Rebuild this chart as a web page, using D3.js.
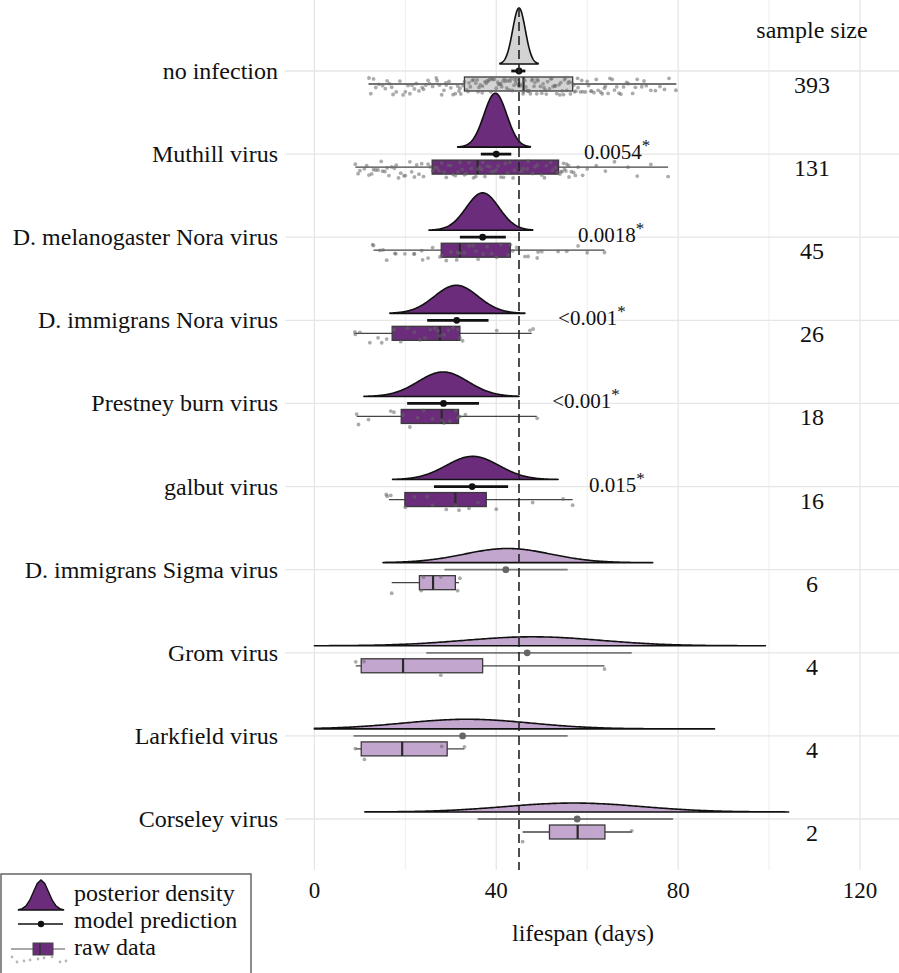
<!DOCTYPE html>
<html>
<head>
<meta charset="utf-8">
<script src="https://d3js.org/d3.v7.min.js"></script>
<style>
  body { margin: 0; background: #fff; }
  svg text { font-family: "Liberation Serif", "Times New Roman", serif; fill: #111; }
</style>
</head>
<body>
<svg id="chart" width="899" height="973" font-family="Liberation Serif, Times New Roman, serif"></svg>
<script>
'use strict';

var categories = ['no infection', 'Muthill virus', 'D. melanogaster Nora virus', 'D. immigrans Nora virus',
  'Prestney burn virus', 'galbut virus', 'D. immigrans Sigma virus', 'Grom virus', 'Larkfield virus', 'Corseley virus'];
var sampleSizes = [393, 131, 45, 26, 18, 16, 6, 4, 4, 2];
var pValues = [null, '0.0054', '0.0018', '<0.001', '<0.001', '0.015', null, null, null, null];
var pValueAt = [null, 59.3, 58, 53.6, 52.3, 60.4, null, null, null, null];   // where the p-value label starts (days)

// posterior of mean lifespan: centre, spread and the range the samples cover
var postMean = [45, 39.8, 37, 31.2, 28.3, 34.8, 42.5, 48, 33.6, 57];
var postSd = [1.4, 2.5, 3.6, 4.8, 5.5, 5.8, 9.5, 15, 14, 15];
var postLo = [40.8, 31.5, 25.2, 16.6, 10.9, 17.2, 15.1, 0, 0, 11.1];
var postHi = [49.2, 47.5, 48, 46.3, 45, 53.6, 74.4, 99.2, 88, 104.3];

// model prediction (point + interval)
var predMid = [45, 40, 37, 31.3, 28.4, 34.7, 42.1, 46.8, 32.6, 57.8];
var predLo = [43.3, 36.6, 32, 24.8, 20.4, 26.3, 28.6, 24.6, 8.6, 35.9];
var predHi = [46.4, 43.3, 42.1, 38.3, 36.2, 42.6, 55.7, 69.8, 55.7, 78.9];

// boxplot: whisker low, q1, median, q3, whisker high
var boxLow = [11.9, 9, 13, 8.8, 9.3, 16.4, 17, 9.1, 9.1, 45.8];
var boxQ1 = [33, 25.9, 27.9, 17.1, 19.1, 19.9, 23.1, 10.3, 10.3, 51.7];
var boxMed = [46, 35.9, 32, 27.6, 28, 31, 26.1, 19.5, 19.3, 57.9];
var boxQ3 = [56.8, 53.7, 43.1, 32, 31.7, 37.8, 31, 37, 29.2, 63.9];
var boxHigh = [79.6, 77.8, 63.8, 47.8, 48.9, 56.8, 31.8, 63.8, 33, 69.8];

// raw lifespans (days)
var rawNoInfection = [12, 12.4, 13, 13.5, 14.2, 15, 15.6, 16, 16.5, 17, 17.3, 18, 18.8, 19.5, 20, 20.6, 21, 21.5,
  22, 22.4, 23, 23.7, 24, 24.5, 25, 25.3, 26, 26.8, 27, 27.5, 28, 28.5, 28.9, 29, 29.6, 30, 30.5, 31, 31.5, 31.8,
  32, 32.2, 32.7, 33, 33.5, 33.8, 34, 34.3, 34.7, 35, 35.5, 35.8, 36, 36.2, 36.5, 36.9, 37, 37.5, 37.8, 38, 38.3,
  38.5, 38.8, 39, 39.2, 39.6, 40, 40.3, 40.5, 40.8, 41, 41.2, 41.5, 41.8, 42, 42.3, 42.5, 42.8, 43, 43.2, 43.5,
  43.9, 44, 44.3, 44.5, 44.8, 45, 45.2, 45.5, 45.9, 46, 46.3, 46.5, 46.8, 47, 47.2, 47.5, 47.8, 48, 48.3, 48.5,
  48.9, 49, 49.2, 49.7, 50, 50.3, 50.5, 50.8, 51, 51.3, 51.7, 52, 52.2, 52.5, 52.9, 53, 53.3, 53.8, 54, 54.2, 54.5,
  54.8, 55, 55.2, 55.5, 55.8, 56, 56.3, 56.6, 57, 57.2, 57.5, 57.9, 58, 58.5, 58.8, 59, 59.6, 60, 60.3, 60.8, 61,
  61.5, 62, 62.4, 63, 63.3, 63.8, 64, 64.6, 65, 65.5, 66, 66.5, 67, 67.4, 68, 68.7, 69, 70, 70.6, 71, 72, 72.5, 73,
  74, 75, 76, 77, 78, 79.5];
var rawMuthill = [9, 9.6, 10, 11, 11.5, 12, 12.6, 13, 13.5, 14, 14.7, 15, 15.5, 16, 16.4, 17, 17.6, 18, 18.5, 19,
  19.7, 20, 21, 21.4, 22, 22.5, 23, 23.6, 24, 25, 25.5, 26, 26.5, 27, 27.4, 28, 28.5, 29, 29.5, 30, 30.5, 31, 31.6,
  32, 32.5, 33, 33.4, 34, 34.5, 35, 35.5, 36, 36.3, 36.8, 37, 37.5, 38, 38.6, 39, 39.5, 40, 40.4, 41, 41.6, 42,
  42.5, 43, 43.7, 44, 45, 45.5, 46, 46.8, 47, 48, 48.5, 49, 50, 50.6, 51, 52, 52.4, 53, 53.5, 54, 54.2, 54.5, 54.8,
  55, 55.3, 55.5, 55.9, 56, 56.5, 57, 57.4, 58, 59, 60, 62, 64, 66, 69, 71, 74, 77.8];
var rawDmelNora = [12.8, 13, 14.4, 15.1, 15.9, 17.7, 17.9, 19.9, 21.9, 22, 23.6, 23.8, 25, 26, 27.6, 28, 29, 30,
  31.3, 31.5, 32, 33, 34, 34.9, 35.5, 36, 37.1, 38, 39, 40.1, 41, 42.6, 43.1, 43.6, 44.5, 46.3, 47, 49, 49.2, 50,
  53.6, 55.5, 58, 60, 63.8];
var rawDimmNora = [8.9, 9, 10, 12.2, 14, 14.8, 15.9, 17.5, 19, 20.5, 22, 23.2, 24.3, 25.5, 26.5, 27.2, 27.6, 28.5,
  29.5, 30.5, 31.6, 32, 32.6, 40.1, 47.4, 48.1];
var rawPrestney = [9.3, 9.7, 11.9, 16.8, 17.5, 19.5, 21, 22.7, 24, 26, 28, 28.5, 29.8, 31.1, 31.6, 32, 33.2, 49];
var rawGalbut = [15.8, 16, 16.8, 20, 22, 24.8, 26, 29, 31, 31.8, 34, 36, 40, 48, 54.7, 56.8];
var rawSigma = [17, 23.5, 24, 27.8, 31.5, 32];
var rawGrom = [9.1, 10.9, 27.8, 63.8];
var rawLarkfield = [9, 11, 28, 33];
var rawCorseley = [45.8, 69.8];
var rawData = [rawNoInfection, rawMuthill, rawDmelNora, rawDimmNora, rawPrestney, rawGalbut,
  rawSigma, rawGrom, rawLarkfield, rawCorseley];

var xTicks = [0, 40, 80, 120];
var xMinorTicks = [20, 60, 100];
var controlLifespan = 45;

var svg = d3.select('#chart');
svg.append('rect').attr('width', 899).attr('height', 973).attr('fill', '#fff');

var x = d3.scaleLinear().domain([0, 120]).range([314.4, 860]);
var y = d3.scalePoint().domain(categories).range([71, 819]);

var rowGroup = categories.map(function(c, i) {
  return i === 0 ? 'control' : (pValues[i] ? 'sig' : 'ns');
});
var fill = d3.scaleOrdinal().domain(['control', 'sig', 'ns']).range(['#d3d3d3', '#6b2c7b', '#c3a6ce']);

// fixed jitter, so the picture is the same on every run
function jitter(i, j) {
  var s = Math.sin(j * 12.9898 + i * 78.233) * 43758.5453;
  return s - Math.floor(s);
}

// grid
var grid = svg.append('g');
grid.selectAll('line.vmin').data(xMinorTicks).enter().append('line')
  .attr('x1', x).attr('x2', x).attr('y1', 0).attr('y2', 870)
  .attr('stroke', '#eeeeee').attr('stroke-width', 1);
grid.selectAll('line.vmaj').data(xTicks).enter().append('line')
  .attr('x1', x).attr('x2', x).attr('y1', 0).attr('y2', 870)
  .attr('stroke', '#e6e6e6').attr('stroke-width', 1.3);
grid.selectAll('line.h').data(categories).enter().append('line')
  .attr('x1', 285).attr('x2', 899).attr('y1', y).attr('y2', y)
  .attr('stroke', '#e6e6e6').attr('stroke-width', 1.3);

// y labels
svg.append('g').selectAll('text').data(categories).enter().append('text')
  .attr('x', 278).attr('y', function(d) { return y(d) + 8; })
  .attr('text-anchor', 'end').attr('font-size', 24).text(function(d) { return d; });

// x axis labels
svg.append('g').selectAll('text').data(xTicks).enter().append('text')
  .attr('x', x).attr('y', 898).attr('text-anchor', 'middle').attr('font-size', 23)
  .text(function(d) { return d; });
svg.append('text').attr('x', 583).attr('y', 941).attr('text-anchor', 'middle')
  .attr('font-size', 24).text('lifespan (days)');

// posterior densities
function normal(v, m, s) {
  return Math.exp(-0.5 * Math.pow((v - m) / s, 2)) / (s * Math.sqrt(2 * Math.PI));
}
var h = d3.scaleLinear().domain([0, 0.4]).range([0, 135]);

categories.forEach(function(c, i) {
  var base = y(c) - 7;
  var peak = h(normal(postMean[i], postMean[i], postSd[i]));
  var k = Math.min(1, 56 / peak);
  var xs = d3.range(postLo[i], postHi[i], (postHi[i] - postLo[i]) / 200).concat([postHi[i]]);
  var area = d3.area()
    .x(function(v) { return x(v); })
    .y0(base)
    .y1(function(v) { return base - k * h(normal(v, postMean[i], postSd[i])); });
  svg.append('path').datum(xs).attr('d', area)
    .attr('fill', fill(rowGroup[i])).attr('stroke', '#111').attr('stroke-width', 1.6)
    .attr('stroke-linejoin', 'round');
});

// raw data: box + jittered points
var box = svg.append('g');
categories.forEach(function(c, i) {
  var cy = y(c) + 13;
  box.append('line').attr('x1', x(boxLow[i])).attr('x2', x(boxHigh[i]))
    .attr('y1', cy).attr('y2', cy).attr('stroke', '#444').attr('stroke-width', 1.3);
  box.append('rect').attr('x', x(boxQ1[i])).attr('y', cy - 7)
    .attr('width', x(boxQ3[i]) - x(boxQ1[i])).attr('height', 14)
    .attr('fill', fill(rowGroup[i])).attr('stroke', '#3a3a3a').attr('stroke-width', 1.3);
  box.append('line').attr('x1', x(boxMed[i])).attr('x2', x(boxMed[i]))
    .attr('y1', cy - 7).attr('y2', cy + 7).attr('stroke', '#2a2a2a').attr('stroke-width', 2.2);
  box.selectAll('circle.r' + i).data(rawData[i]).enter().append('circle')
    .attr('cx', function(d) { return x(d); })
    .attr('cy', function(d, j) { return cy - 6 + 17 * jitter(i, j); })
    .attr('r', 1.9).attr('fill', '#666').attr('fill-opacity', 0.55);
});

// model prediction
categories.forEach(function(c, i) {
  var ns = rowGroup[i] === 'ns';
  svg.append('line').attr('x1', x(predLo[i])).attr('x2', x(predHi[i]))
    .attr('y1', y(c)).attr('y2', y(c))
    .attr('stroke', ns ? '#7a7a7a' : '#111').attr('stroke-width', ns ? 1.8 : 2.8);
  svg.append('circle').attr('cx', x(predMid[i])).attr('cy', y(c)).attr('r', 3.4)
    .attr('fill', ns ? '#666' : '#111');
});

// control lifespan reference
svg.append('line').attr('x1', x(controlLifespan)).attr('x2', x(controlLifespan))
  .attr('y1', 8).attr('y2', 870).attr('stroke', '#222').attr('stroke-width', 1.6)
  .attr('stroke-dasharray', '9,5');

// p-values
categories.forEach(function(c, i) {
  if (!pValues[i]) return;
  var t = svg.append('text').attr('x', x(pValueAt[i])).attr('y', y(c) + 5).attr('font-size', 21);
  t.append('tspan').text(pValues[i]);
  t.append('tspan').attr('dy', -8).attr('font-size', 17).text('*');
});

// sample sizes
svg.append('text').attr('x', 812).attr('y', 38).attr('text-anchor', 'middle')
  .attr('font-size', 24).text('sample size');
svg.append('g').selectAll('text').data(categories).enter().append('text')
  .attr('x', 812).attr('y', function(d) { return y(d) + 22; })
  .attr('text-anchor', 'middle').attr('font-size', 24)
  .text(function(d, i) { return sampleSizes[i]; });

// legend
var lg = svg.append('g');
lg.append('rect').attr('x', 1).attr('y', 874).attr('width', 250).attr('height', 120)
  .attr('fill', '#fff').attr('stroke', '#666').attr('stroke-width', 1.5);
var icon = d3.range(-3, 3.01, 0.5);
lg.append('path').datum(icon)
  .attr('d', d3.area()
    .x(function(v) { return 41 + v * 7.5; })
    .y0(910)
    .y1(function(v) { return 910 - 30 * Math.exp(-0.5 * v * v); }))
  .attr('fill', '#6b2c7b').attr('stroke', '#111').attr('stroke-width', 1.4);
lg.append('line').attr('x1', 18).attr('x2', 63).attr('y1', 924).attr('y2', 924)
  .attr('stroke', '#111').attr('stroke-width', 1.6);
lg.append('circle').attr('cx', 41).attr('cy', 924).attr('r', 3.2).attr('fill', '#111');
lg.append('line').attr('x1', 11).attr('x2', 65).attr('y1', 949).attr('y2', 949)
  .attr('stroke', '#555').attr('stroke-width', 1.2);
lg.append('rect').attr('x', 33).attr('y', 943).attr('width', 20).attr('height', 12)
  .attr('fill', '#6b2c7b').attr('stroke', '#444');
lg.append('line').attr('x1', 40).attr('x2', 40).attr('y1', 943).attr('y2', 955)
  .attr('stroke', '#333').attr('stroke-width', 1.6);
lg.selectAll('circle.j').data([12, 17, 24, 30, 38, 44, 52, 60, 66]).enter().append('circle')
  .attr('cx', function(d) { return d; })
  .attr('cy', function(d, j) { return 957 + (j * 5) % 6; })
  .attr('r', 1.4).attr('fill', '#888').attr('fill-opacity', 0.6);
lg.selectAll('text').data(['posterior density', 'model prediction', 'raw data']).enter().append('text')
  .attr('x', 74).attr('y', function(d, j) { return 901 + j * 27; })
  .attr('font-size', 24).text(function(d) { return d; });
</script>
</body>
</html>
